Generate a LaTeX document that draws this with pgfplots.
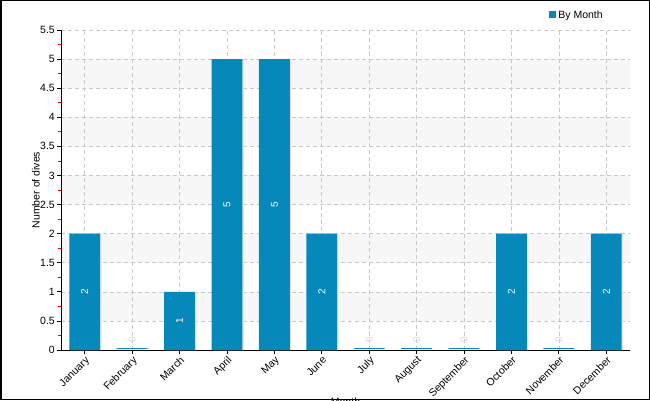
\documentclass[border=0pt]{standalone}
\usepackage{pgfplots}
\pgfplotsset{compat=1.18}
\usepackage{fontspec}
\setmainfont{Liberation Sans}
\definecolor{barblue}{HTML}{0688BA}
\definecolor{band}{HTML}{F7F7F7}
\definecolor{gridc}{HTML}{C8C8C8}
\begin{document}
\begin{tikzpicture}
\useasboundingbox (0pt,0pt) rectangle (650pt,400pt);
\fill[white] (0pt,0pt) rectangle (650pt,400pt);
% background bands (0.5-1, 1.5-2, ... ) : 1 unit = 320/5.5 pt
\fill[band] (61pt,79.09pt) rectangle (630pt,108.18pt);
\fill[band] (61pt,137.27pt) rectangle (630pt,166.36pt);
\fill[band] (61pt,195.45pt) rectangle (630pt,224.55pt);
\fill[band] (61pt,253.64pt) rectangle (630pt,282.73pt);
\fill[band] (61pt,311.82pt) rectangle (630pt,340.91pt);
\begin{axis}[
  scale only axis,
  width=569pt, height=320pt,
  at={(61pt,50pt)}, anchor=south west,
  xmin=-0.5, xmax=11.5,
  ymin=0, ymax=5.5,
  axis x line*=bottom, axis y line*=left,
  axis line style={black, line width=0.8pt},
  xtick={0,...,11},
  xticklabels={January,February,March,April,May,June,July,August,September,October,November,December},
  x tick label style={rotate=45, anchor=north east, font=\fontsize{10.5}{12}\selectfont, inner sep=1pt},
  ytick={0,0.5,...,5.5},
  yticklabels={0,0.5,1,1.5,2,2.5,3,3.5,4,4.5,5,5.5},
  y tick label style={font=\fontsize{10.5}{12}\selectfont, inner sep=2pt},
  minor y tick num=1,
  tick align=outside,
  major tick length=4pt,
  minor tick length=3pt,
  tick style={black, line width=0.8pt},
  minor tick style={red, line width=0.8pt},
  grid=major,
  major grid style={gridc, dash pattern=on 4pt off 3pt, line width=0.6pt},
  ylabel={Number of dives},
  every axis y label/.style={at={(axis description cs:-0.044,0.5)}, rotate=90, anchor=center, font=\fontsize{10.5}{12}\selectfont},
  xlabel={Month},
  every axis x label/.style={at={(axis description cs:0.5,-0.14)}, anchor=north, font=\fontsize{10.5}{12}\selectfont},
  legend style={at={(axis description cs:0.858,1.047)}, anchor=west, draw=none, fill=none, font=\fontsize{10.5}{12}\selectfont, inner sep=0pt, legend cell align=left},
  legend image code/.code={\fill[barblue] (0pt,-3.5pt) rectangle (7pt,3.5pt);},
  clip=false,
]
\addplot[ybar, bar width=0.65, bar shift=1.5pt, fill=gray!20, draw=none, forget plot]
  coordinates {(0,2) (2,1) (3,5) (4,5) (5,2) (9,2) (11,2)};
\addplot[ybar, bar width=0.65, bar shift=0pt, fill=barblue, draw=none]
  coordinates {(0,2) (2,1) (3,5) (4,5) (5,2) (9,2) (11,2)};
\addlegendentry{By Month}
% zero-valued months: drawn as a thin line just above the axis
\addplot[ybar, bar width=0.65, bar shift=0pt, draw=barblue, line width=1.2pt, yshift=1.2pt, forget plot]
  coordinates {(1,0) (6,0) (7,0) (8,0) (10,0)};
\addplot[only marks, mark=none, forget plot, point meta=explicit symbolic,
  nodes near coords, every node near coord/.style={anchor=center, rotate=90, text=white, font=\fontsize{10}{12}\selectfont}]
  coordinates {(0,1)[2] (2,0.5)[1] (3,2.5)[5] (4,2.5)[5] (5,1)[2] (9,1)[2] (11,1)[2]};
\addplot[only marks, mark=none, forget plot, point meta=explicit symbolic,
  nodes near coords, every node near coord/.style={anchor=center, rotate=90, text=gray!30, font=\fontsize{10}{12}\selectfont}]
  coordinates {(1,0.17)[0] (6,0.17)[0] (7,0.17)[0] (8,0.17)[0] (10,0.17)[0]};
\end{axis}
\draw[black, line width=1.5pt] (0.75pt,0.75pt) rectangle (649.25pt,399.25pt);
\end{tikzpicture}
\end{document}
